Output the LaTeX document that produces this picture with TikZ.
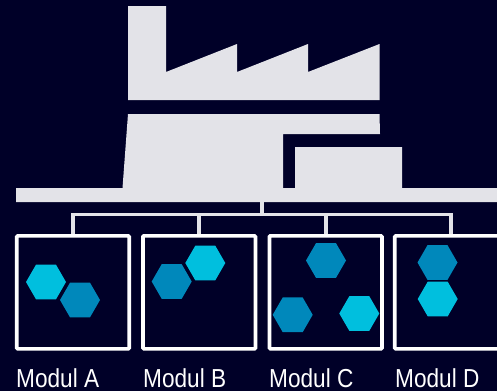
\documentclass[tikz,border=0pt]{standalone}
\usepackage{fontspec}
\setmainfont[FakeStretch=0.87]{Liberation Sans}
\usepackage{xcolor}
\usetikzlibrary{shapes.geometric, calc}
\definecolor{nightbg}{RGB}{0,0,40}
\definecolor{plant}{RGB}{227,227,232}
\definecolor{hexblue}{RGB}{0,136,187}
\definecolor{hexcyan}{RGB}{0,191,222}
\tikzset{
    modul/.style={draw=white, line width=3.6pt, rounded corners=1pt, minimum width=112.5pt, minimum height=113pt, inner sep=0pt},
    hexa/.style={regular polygon, regular polygon sides=6, minimum size=40pt, inner sep=0pt},
    hexb/.style={hexa, fill=hexblue},
    hexc/.style={hexa, fill=hexcyan},
    wire/.style={draw=plant, line width=3.8pt},
    modlabel/.style={anchor=base west, text=white, font=\fontsize{26}{26}\selectfont, inner sep=0pt}
}

\begin{document}
\begin{tikzpicture}[x=1pt, y=-1pt] % Units are pixels of the reference, y runs downward
        % Background
        \useasboundingbox (0,0) rectangle (497,391);
        \clip (0,0) rectangle (497,391);
        \fill[nightbg] (0,0) rectangle (497,391);

        % Draw Factory Roof
        \fill[plant] (128,6) -- (166,6) -- (166,72) -- (237,44) -- (237,72) -- (308,44) -- (308,72) -- (379.5,44) -- (379.5,100) -- (128,100) -- cycle;

        % Draw Factory Hall and Floor
        \fill[plant] (128,114) -- (379.5,114) -- (380,134) -- (283,134) -- (283,188) -- (295,188) -- (295,147) -- (402,147) -- (402,188) -- (497,188) -- (497,202) -- (16,202) -- (16,188) -- (122.5,188) -- cycle;

        % Bus
        \coordinate (Floor) at (262,202);
        \coordinate (Bus) at (262,214.5);
        \coordinate (DropA) at (73,235);
        \coordinate (DropB) at (199.2,235);
        \coordinate (DropC) at (325.7,235);
        \coordinate (DropD) at (451,235);
        \draw[wire] (Floor) -- (Bus);
        \draw[wire] (DropA) -- (DropA |- Bus) -- (DropD |- Bus) -- (DropD);
        \foreach \m in {DropB,DropC} {
            \draw[wire] (\m) -- (\m |- Bus);
        }

        % Modules
        \node[modul] (ModulA) at (73,292.3) {};
        \node[modul] (ModulB) at (199.2,292.3) {};
        \node[modul] (ModulC) at (325.7,292.3) {};
        \node[modul] (ModulD) at (451,292.3) {};

        % Hexagons
        \node[hexc] (HexAa) at (46,282) {};
        \node[hexb] (HexAb) at (80,300) {};
        \node[hexb] (HexBa) at (171.7,281.5) {};
        \node[hexc] (HexBb) at (205.3,263) {};
        \node[hexb] (HexCa) at (326,260.5) {};
        \node[hexb] (HexCb) at (292.7,314.8) {};
        \node[hexc] (HexCc) at (359.3,313.5) {};
        \node[hexb] (HexDa) at (437.5,262.5) {};
        \node[hexc] (HexDb) at (437.7,299) {};

        % Labels
        \node[modlabel] (LabelA) at (16,387) {Modul A};
        \node[modlabel] (LabelB) at (143,387) {Modul B};
        \node[modlabel] (LabelC) at (269,387) {Modul C};
        \node[modlabel] (LabelD) at (395,387) {Modul D};

    \end{tikzpicture}
\end{document}
